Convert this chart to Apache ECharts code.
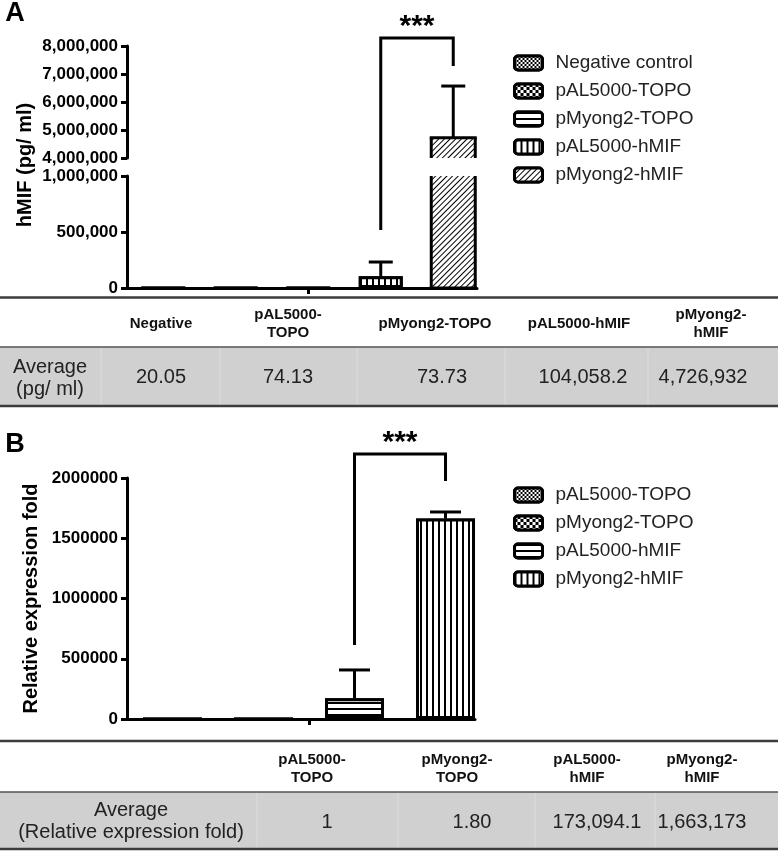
<!DOCTYPE html>
<html><head><meta charset="utf-8">
<script src="https://cdn.jsdelivr.net/npm/echarts@6/dist/echarts.min.js"></script>
<style>
html,body{margin:0;padding:0;background:#fff;overflow:hidden;width:778px;height:851px}
#a{position:absolute;left:0;top:0;width:778px;height:420px}
#b{position:absolute;left:0;top:420px;width:778px;height:431px}
</style>
</head><body><div id="a"></div><div id="b"></div>
<script>
const FONT = "'Liberation Sans', Arial, Helvetica, sans-serif";

// ---------- Panel A data ----------
const seriesA = ['Negative control', 'pAL5000-TOPO', 'pMyong2-TOPO', 'pAL5000-hMIF', 'pMyong2-hMIF'];
const valuesA = [20.05, 74.13, 73.73, 104058.2, 4726932];
const errorTopA = [null, null, null, 232000, 6570000];
const tableHeadA = ['Negative', 'pAL5000-\nTOPO', 'pMyong2-TOPO', 'pAL5000-hMIF', 'pMyong2-\nhMIF'];
const tableRowLabelA = 'Average\n(pg/ ml)';
const tableValuesA = ['20.05', '74.13', '73.73', '104,058.2', '4,726,932'];
const sigA = { from: 3, to: 4, top: 8290000, leftEnd: 518000, rightEnd: 7290000, text: '***' };

// ---------- Panel B data ----------
const seriesB = ['pAL5000-TOPO', 'pMyong2-TOPO', 'pAL5000-hMIF', 'pMyong2-hMIF'];
const valuesB = [1, 1.80, 173094.1, 1663173];
const errorTopB = [null, null, 407000, 1718000];
const tableHeadB = ['pAL5000-\nTOPO', 'pMyong2-\nTOPO', 'pAL5000-\nhMIF', 'pMyong2-\nhMIF'];
const tableRowLabelB = 'Average\n(Relative expression fold)';
const tableValuesB = ['1', '1.80', '173,094.1', '1,663,173'];
const sigB = { from: 2, to: 3, top: 2200000, leftEnd: 614000, rightEnd: 1975000, text: '***' };

// ---------- patterns ----------
function dec(o) { return Object.assign({ symbol: 'rect', symbolSize: 1, symbolKeepAspect: false, color: '#000', backgroundColor: '#fff' }, o); }
const decals = [
  dec({ dashArrayX: [[2, 2], [0, 2, 2, 0]], dashArrayY: [2, 0] }),          // fine checker
  dec({ dashArrayX: [[3, 3], [0, 3, 3, 0]], dashArrayY: [3, 0] }),          // coarse checker
  dec({ dashArrayX: [1, 0], dashArrayY: [1.5, 3.5] }),                       // horizontal lines
  dec({ dashArrayX: [1.5, 4], dashArrayY: [1, 0] }),                         // vertical lines
  dec({ dashArrayX: [1, 0], dashArrayY: [1, 2.6], rotation: -Math.PI / 4 })  // diagonal
];

const commas = v => Number(v).toLocaleString('en-US');
const AXW = 3;

function yAxis(gridIndex, min, max, interval, fmt, extra) {
  return Object.assign({
    type: 'value', gridIndex, min, max, interval, z: 3,
    axisLine: { show: true, onZero: false, lineStyle: { color: '#000', width: AXW } },
    axisTick: { show: true, length: 6, lineStyle: { color: '#000', width: AXW } },
    axisLabel: { margin: 9, color: '#000', fontSize: 17, fontWeight: 'bold', fontFamily: FONT, formatter: fmt },
    splitLine: { show: false }
  }, extra || {});
}
function xAxis(gridIndex, max, tickAt, show) {
  return {
    type: 'value', gridIndex, min: -0.5, max, show, z: 3,
    axisLine: { show: true, onZero: false, lineStyle: { color: '#000', width: AXW } },
    axisTick: { show: true, customValues: [tickAt], length: 6, lineStyle: { color: '#000', width: AXW } },
    axisLabel: { show: false }, splitLine: { show: false }
  };
}
function barSeries(name, xi, yi, x, v, decal, bw, bordered) {
  return {
    type: 'bar', name, xAxisIndex: xi, yAxisIndex: yi, barWidth: bw, barGap: '-100%', clip: true,
    data: [[x, v]], z: 2, silent: true,
    itemStyle: { color: '#fff', borderColor: '#000', borderWidth: bordered === false ? 0 : 3, decal }
  };
}
// outline for a bar interrupted by the axis break: only edges inside the grid are drawn
function brokenBarOutline(xi, yi, data, halfW) {
  return {
    type: 'custom', xAxisIndex: xi, yAxisIndex: yi, z: 4, silent: true, clip: false,
    data, encode: { x: 0, y: 1 },
    renderItem(params, api) {
      const cs = params.coordSys;
      const x = api.value(0), v = api.value(1);
      const pt = api.coord([x, v]), pb = api.coord([x, 0]);
      const top = Math.max(pt[1], cs.y), bot = Math.min(pb[1], cs.y + cs.height);
      const st = { stroke: '#000', lineWidth: 3 };
      const L = pt[0] - halfW, R = pt[0] + halfW;
      const ch = [
        { type: 'line', shape: { x1: L, y1: top, x2: L, y2: bot }, style: st },
        { type: 'line', shape: { x1: R, y1: top, x2: R, y2: bot }, style: st }
      ];
      if (pt[1] >= cs.y) ch.push({ type: 'line', shape: { x1: L - 1.5, y1: pt[1], x2: R + 1.5, y2: pt[1] }, style: st });
      if (pb[1] <= cs.y + cs.height) ch.push({ type: 'line', shape: { x1: L - 1.5, y1: pb[1], x2: R + 1.5, y2: pb[1] }, style: st });
      return { type: 'group', children: ch };
    }
  };
}
function errorSeries(xi, yi, data, capW) {
  return {
    type: 'custom', xAxisIndex: xi, yAxisIndex: yi, z: 5, silent: true, clip: false,
    data, encode: { x: 0, y: [1, 2] },
    renderItem(params, api) {
      const x = api.value(0), m = api.value(1), t = api.value(2);
      const p0 = api.coord([x, m]), p1 = api.coord([x, t]);
      const st = { stroke: '#000', lineWidth: 3 };
      return { type: 'group', children: [
        { type: 'line', shape: { x1: p0[0], y1: p0[1], x2: p1[0], y2: p1[1] }, style: st },
        { type: 'line', shape: { x1: p1[0] - capW / 2, y1: p1[1], x2: p1[0] + capW / 2, y2: p1[1] }, style: st }
      ] };
    }
  };
}
function legend(names, top) {
  return {
    orient: 'vertical', left: 513, top, padding: 0, itemWidth: 28, itemHeight: 14, itemGap: 9, icon: 'roundRect',
    data: names, selectedMode: false,
    textStyle: { fontSize: 19, color: '#222', fontFamily: FONT, padding: [0, 0, 0, 8] },
    itemStyle: { borderColor: '#000', borderWidth: 3 }
  };
}
function txt(x, y, text, size, weight, extra) {
  return { type: 'text', x, y, silent: true, style: Object.assign({ text, fontSize: size, fontWeight: weight, fontFamily: FONT, fill: '#000', align: 'center', verticalAlign: 'middle' }, extra || {}) };
}
function hline(y, w, color) {
  return { type: 'line', silent: true, shape: { x1: 0, y1: y, x2: 778, y2: y }, style: { stroke: color, lineWidth: w } };
}
function table(cfg) {
  const g = [];
  g.push({ type: 'rect', silent: true, shape: { x: 0, y: cfg.grayTop, width: 778, height: cfg.grayBottom - cfg.grayTop }, style: { fill: '#d0d0d0' } });
  cfg.seps.forEach(x => g.push({ type: 'line', silent: true, shape: { x1: x, y1: cfg.grayTop + 1, x2: x, y2: cfg.grayBottom }, style: { stroke: '#dcdcdc', lineWidth: 1 } }));
  g.push(hline(cfg.topLine, 2.5, '#3c3c3c'));
  g.push(hline(cfg.grayTop, 1.5, '#555'));
  g.push(hline(cfg.bottomLine, 2.5, '#3c3c3c'));
  cfg.head.forEach((h, i) => g.push(txt(cfg.headX[i], cfg.headY, h, 15, 'bold', { lineHeight: 18, fill: '#111' })));
  g.push(txt(cfg.labelX, cfg.labelY, cfg.label, 20, 'normal', { lineHeight: 22, fill: '#222' }));
  cfg.vals.forEach((v, i) => g.push(txt(cfg.valX[i], cfg.valY, v, 20, 'normal', { fill: '#222' })));
  return g;
}
function bracket(pL, pTL, pTR, pR, text) {
  return [
    { type: 'polyline', silent: true, shape: { points: [pL, pTL, pTR, pR] }, style: { stroke: '#000', lineWidth: 3, fill: null } },
    txt((pTL[0] + pTR[0]) / 2, pTL[1] - 11, text, 30, 'bold')
  ];
}

// ================= Chart A =================
const chartA = echarts.init(document.getElementById('a'), null, { renderer: 'canvas' });
const serA = seriesA.map((n, i) => barSeries(n, 0, 0, i, valuesA[i], decals[i], 44, i !== 4));
serA.push(barSeries(seriesA[4], 1, 1, 4, valuesA[4], decals[4], 44, false));
serA.push(brokenBarOutline(0, 0, [[4, valuesA[4]]], 22));
serA.push(brokenBarOutline(1, 1, [[4, valuesA[4]]], 22));
serA.push(errorSeries(0, 0, [[3, valuesA[3], errorTopA[3]]], 24));
serA.push(errorSeries(1, 1, [[4, valuesA[4], errorTopA[4]]], 24));
chartA.setOption({
  animation: false,
  grid: [
    { left: 127, top: 176, width: 350, height: 112 },
    { left: 127, top: 46, width: 350, height: 112 }
  ],
  xAxis: [xAxis(0, 4.3276, 2, true), xAxis(1, 4.3276, 2, false)],
  yAxis: [yAxis(0, 0, 1000000, 500000, commas), yAxis(1, 4000000, 8000000, 1000000, commas)],
  legend: legend(seriesA, 53.5),
  series: serA
});
{
  const pTL = chartA.convertToPixel({ gridIndex: 1 }, [sigA.from, sigA.top]);
  const pTR = chartA.convertToPixel({ gridIndex: 1 }, [sigA.to, sigA.top]);
  const pR = chartA.convertToPixel({ gridIndex: 1 }, [sigA.to, sigA.rightEnd]);
  const pL = chartA.convertToPixel({ gridIndex: 0 }, [sigA.from, sigA.leftEnd]);
  const yName = txt(25, 165, 'hMIF (pg/ ml)', 20, 'bold');
  yName.rotation = Math.PI / 2;
  const g = [].concat(
    [txt(15, 14, 'A', 27, 'bold'), yName],
    bracket(pL, pTL, pTR, pR, sigA.text),
    table({ topLine: 297.5, grayTop: 347, grayBottom: 405, bottomLine: 406,
      seps: [101, 220, 357, 505, 648], head: tableHeadA, headX: [161, 288, 435, 579, 711], headY: 324,
      label: tableRowLabelA, labelX: 50, labelY: 378, vals: tableValuesA, valX: [161, 288, 442, 583, 703], valY: 377 })
  );
  chartA.setOption({ graphic: { elements: g } });
}

// ================= Chart B =================
const chartB = echarts.init(document.getElementById('b'), null, { renderer: 'canvas' });
const serB = seriesB.map((n, i) => barSeries(n, 0, 0, i, valuesB[i], decals[i], 59, true));
serB.push(errorSeries(0, 0, [[2, valuesB[2], errorTopB[2]], [3, valuesB[3], errorTopB[3]]], 31));
chartB.setOption({
  animation: false,
  grid: [{ left: 127, top: 58, width: 348, height: 241 }],
  xAxis: [xAxis(0, 3.324, 1.5, true)],
  yAxis: [yAxis(0, 0, 2000000, 500000, v => String(v), {
    name: 'Relative expression fold', nameLocation: 'middle', nameGap: 86,
    nameTextStyle: { fontSize: 20, fontWeight: 'bold', color: '#000', fontFamily: FONT }
  })],
  legend: legend(seriesB, 65.5),
  series: serB
});
{
  const pTL = chartB.convertToPixel({ gridIndex: 0 }, [sigB.from, sigB.top]);
  const pTR = chartB.convertToPixel({ gridIndex: 0 }, [sigB.to, sigB.top]);
  const pR = chartB.convertToPixel({ gridIndex: 0 }, [sigB.to, sigB.rightEnd]);
  const pL = chartB.convertToPixel({ gridIndex: 0 }, [sigB.from, sigB.leftEnd]);
  const g = [].concat(
    [txt(15, 25, 'B', 27, 'bold')],
    bracket(pL, pTL, pTR, pR, sigB.text),
    table({ topLine: 321, grayTop: 372, grayBottom: 428, bottomLine: 429,
      seps: [257, 398, 535, 655], head: tableHeadB, headX: [312, 457, 587, 702], headY: 349,
      label: tableRowLabelB, labelX: 131, labelY: 401.5, vals: tableValuesB, valX: [327, 472, 597, 702], valY: 402 })
  );
  chartB.setOption({ graphic: { elements: g } });
}
</script>
</body></html>
